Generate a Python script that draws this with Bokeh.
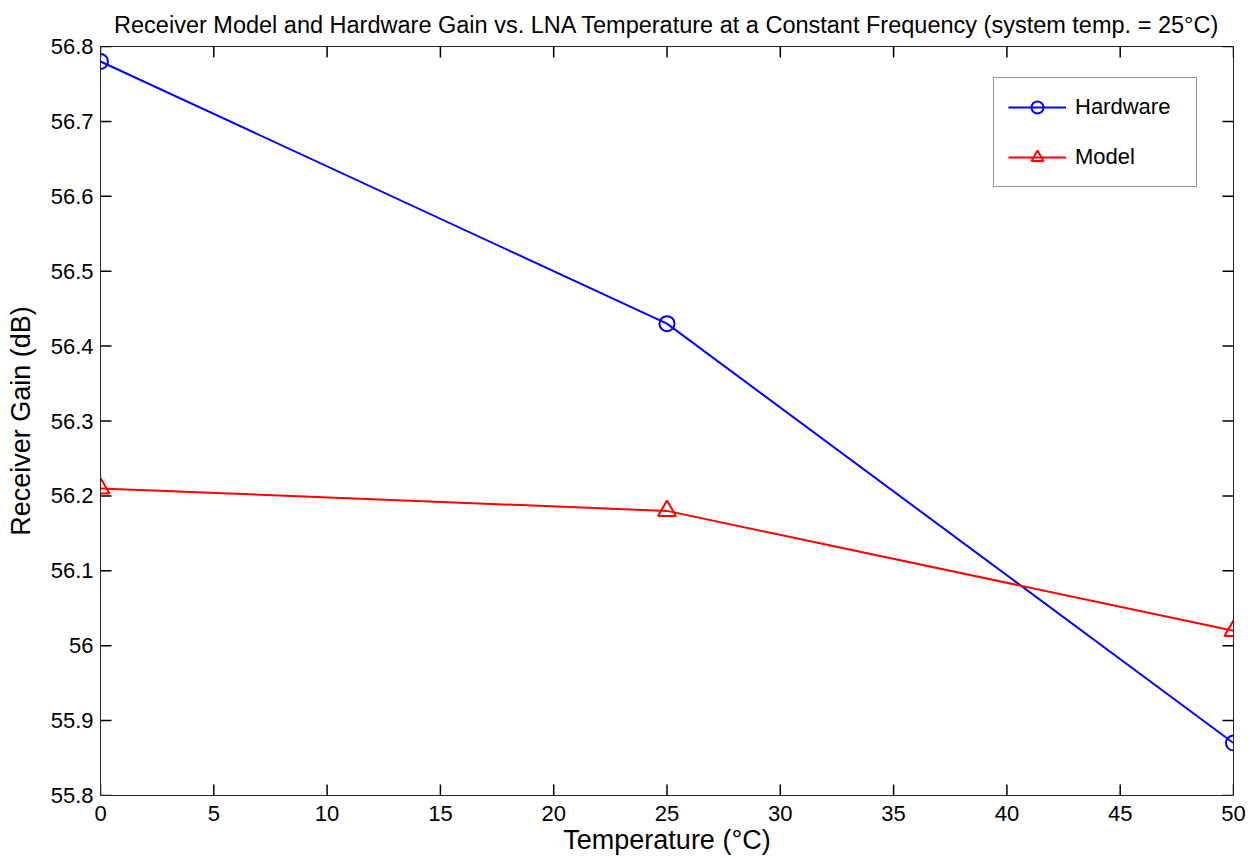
import math
from bokeh.plotting import figure
from bokeh.models import Range1d, FixedTicker, Legend, LegendItem, CustomJSTickFormatter
from bokeh.embed import file_html
from bokeh.resources import INLINE

# LNA temperature (°C) and receiver gain (dB)
temperature = [0, 25, 50]
hardware_gain = [56.78, 56.43, 55.87]
model_gain = [56.21, 56.18, 56.02]

x_ticks = [0, 5, 10, 15, 20, 25, 30, 35, 40, 45, 50]
y_ticks = [55.8, 55.9, 56.0, 56.1, 56.2, 56.3, 56.4, 56.5, 56.6, 56.7, 56.8]

FONT = "Liberation Sans"
AX = "#262626"
X_MIN, X_MAX = x_ticks[0], x_ticks[-1]
Y_MIN, Y_MAX = y_ticks[0], y_ticks[-1]

p = figure(width=1253, height=858, output_backend="svg", toolbar_location=None,
           x_range=Range1d(X_MIN, X_MAX), y_range=Range1d(Y_MIN, Y_MAX),
           title="Receiver Model and Hardware Gain vs. LNA Temperature at a Constant Frequency (system temp. = 25°C)",
           min_border_left=100, min_border_right=20, min_border_top=46, min_border_bottom=63)

p.title.align = "center"
p.title.text_font = FONT
p.title.text_font_size = "23.5px"
p.title.text_font_style = "normal"
p.title.text_color = "black"
p.title.text_line_height = 1.0
p.title.standoff = 18

p.xgrid.visible = False
p.ygrid.visible = False
p.outline_line_color = AX
p.outline_line_width = 1
p.background_fill_color = "white"
p.border_fill_color = "white"

fmt = CustomJSTickFormatter(code="return String(Number(tick.toFixed(1)));")

for ax, ticks in ((p.xaxis[0], x_ticks), (p.yaxis[0], y_ticks)):
    ax.ticker = FixedTicker(ticks=ticks)
    ax.formatter = fmt
    ax.major_tick_in = 0
    ax.major_tick_out = 0
    ax.minor_tick_in = 0
    ax.minor_tick_out = 0
    ax.axis_line_color = AX
    ax.major_label_text_font = FONT
    ax.major_label_text_font_size = "22px"
    ax.major_label_text_color = "black"
    ax.axis_label_text_font = FONT
    ax.axis_label_text_font_size = "27px"
    ax.axis_label_text_font_style = "normal"
    ax.axis_label_text_color = "black"

p.xaxis[0].axis_label = "Temperature (°C)"
p.yaxis[0].axis_label = "Receiver Gain (dB)"
p.xaxis[0].major_label_standoff = 10
p.yaxis[0].major_label_standoff = 7
p.xaxis[0].axis_label_standoff = 1
p.yaxis[0].axis_label_standoff = 12

# inward tick marks on all four sides of the box
TICK = 11
left = dict(x=[X_MIN] * len(y_ticks), y=y_ticks)
right = dict(x=[X_MAX] * len(y_ticks), y=y_ticks)
bottom = dict(x=x_ticks, y=[Y_MIN] * len(x_ticks))
top = dict(x=x_ticks, y=[Y_MAX] * len(x_ticks))
for src, ang in ((left, 0.0), (right, math.pi), (bottom, math.pi / 2), (top, -math.pi / 2)):
    p.ray(x="x", y="y", source=src, length=TICK, length_units="screen", angle=ang,
          line_color="black", line_width=1.5)

hw_line = p.line(temperature, hardware_gain, line_color="#0000ff", line_width=2)
hw_pts = p.scatter(temperature, hardware_gain, marker="circle", size=15,
                   line_color="#0000ff", line_width=2, fill_color=None)
md_line = p.line(temperature, model_gain, line_color="#ff0000", line_width=2)
md_pts = p.scatter(temperature, model_gain, marker="triangle", size=18,
                   line_color="#ff0000", line_width=2, fill_color=None)

legend = Legend(items=[LegendItem(label="Hardware", renderers=[hw_line, hw_pts]),
                       LegendItem(label="Model", renderers=[md_line, md_pts])],
                location=(893, 608), orientation="vertical",
                label_text_font=FONT, label_text_font_size="22px", label_text_color="black",
                glyph_width=58, glyph_height=30, label_height=30, label_width=107,
                label_standoff=9, spacing=20, padding=14, margin=0,
                border_line_color=AX, border_line_width=1,
                background_fill_color="white", background_fill_alpha=1)
p.add_layout(legend)

open("out.html", "w").write(file_html(p, INLINE))
